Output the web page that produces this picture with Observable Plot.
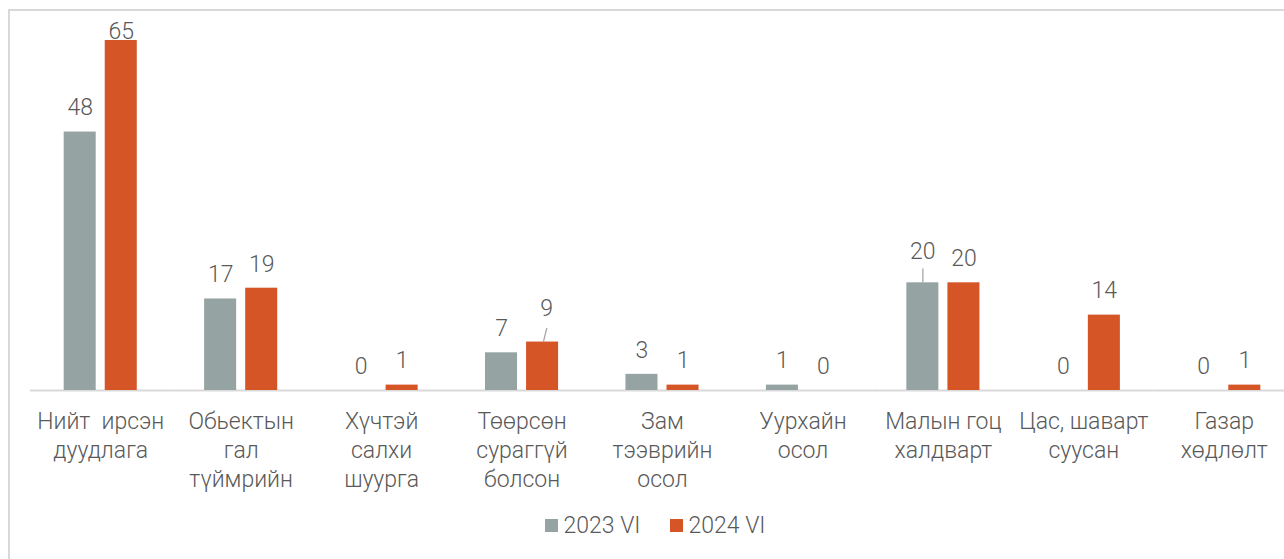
<!DOCTYPE html>
<html>
<head>
<meta charset="utf-8">
<script src="https://cdn.jsdelivr.net/npm/d3@7"></script>
<script src="https://cdn.jsdelivr.net/npm/@observablehq/plot@0.6"></script>
<style>
  html, body { margin: 0; padding: 0; background: #fff; overflow: hidden; width: 1284px; height: 559px; }
  body { font-family: Roboto, "Noto Sans", sans-serif; font-weight: 300; position: relative; }
  #frame { position: absolute; left: 8px; top: 9px; width: 1320px; height: 620px; border: 2px solid #d9d9d9; box-sizing: border-box; }
  #chart { position: absolute; left: 0; top: 0; width: 1284px; overflow: hidden; }
  #chart svg { max-width: none !important; }
  #legend { position: absolute; left: 0; top: 512px; width: 1310px; display: flex; justify-content: center; gap: 29px; font-size: 23px; color: #595959; }
  .item { display: flex; align-items: center; gap: 6px; }
  .sw { width: 13px; height: 13px; display: inline-block; }
</style>
</head>
<body>
<div id="frame"></div>
<div id="chart"></div>
<div id="legend"></div>
<script>
const categories = [
  "Нийт  ирсэн\nдуудлага",
  "Обьектын\nгал\nтүймрийн",
  "Хүчтэй\nсалхи\nшуурга",
  "Төөрсөн\nсураггүй\nболсон",
  "Зам\nтээврийн\nосол",
  "Уурхайн\nосол",
  "Малын гоц\nхалдварт",
  "Цас, шаварт\nсуусан",
  "Газар\nхөдлөлт"
];
const seriesNames = ["2023 VI", "2024 VI"];
const values2023 = [48, 17, 0, 7, 3, 1, 20, 0, 0];
const values2024 = [65, 19, 1, 9, 1, 0, 20, 14, 1];
const colors = ["#95a3a3", "#d55527"];

const data = [];
categories.forEach((c, i) => {
  data.push({category: c, series: seriesNames[0], value: values2023[i], idx: i});
  data.push({category: c, series: seriesNames[1], value: values2024[i], idx: i});
});

const isTop = d => d.value >= 60;
const isLeaderA = d => d.idx === 3 && d.series === seriesNames[1];
const isLeaderB = d => d.idx === 6 && d.series === seriesNames[0];
const isNormal = d => !isTop(d) && !isLeaderA(d) && !isLeaderB(d);

const textColor = "#595959";
const fontFamily = "Roboto, 'Noto Sans', sans-serif";
const labelOpts = {fx: "category", x: "series", y: "value", text: d => String(d.value), fontSize: 23, fill: textColor};

const plot = Plot.plot({
  width: 1300,
  height: 500,
  marginLeft: 30,
  marginRight: 6,
  marginTop: 40,
  marginBottom: 110,
  facet: {marginTop: 0, marginRight: 0, marginBottom: 0, marginLeft: 0},
  style: {fontFamily, fontWeight: 300, background: "transparent"},
  fx: {domain: categories, padding: 0, label: null, round: false, axis: null},
  x: {domain: seriesNames, paddingInner: 0.22, paddingOuter: 0.82, axis: null, round: false},
  y: {domain: [0, 65], axis: null},
  color: {domain: seriesNames, range: colors},
  marks: [
    Plot.ruleY([0], {stroke: "#d9d9d9", strokeWidth: 2}),
    Plot.barY(data, {fx: "category", x: "series", y: "value", fill: "series"}),
    Plot.text(data.filter(isNormal), {...labelOpts, dy: -24}),
    Plot.text(data.filter(isTop), {...labelOpts, dy: -9}),
    Plot.text(data.filter(isLeaderA), {...labelOpts, dy: -33, dx: 4}),
    Plot.text(data.filter(isLeaderB), {...labelOpts, dy: -31}),
    Plot.vector(data.filter(isLeaderA), {fx: "category", x: "series", y: "value", length: 13, rotate: 14, anchor: "start", r: 0, dy: -1, dx: 1, stroke: "#a6a6a6", strokeWidth: 1.3}),
    Plot.vector(data.filter(isLeaderB), {fx: "category", x: "series", y: "value", length: 13, rotate: 0, anchor: "start", r: 0, dy: -1, stroke: "#a6a6a6", strokeWidth: 1.3}),
    Plot.axisFx({anchor: "bottom", tickSize: 0, tickPadding: 18, fontSize: 23, lineHeight: 1.26, fill: textColor, label: null})
  ]
});
document.getElementById("chart").appendChild(plot);

const legend = document.getElementById("legend");
seriesNames.forEach((s, i) => {
  const item = document.createElement("div");
  item.className = "item";
  const sw = document.createElement("span");
  sw.className = "sw";
  sw.style.background = colors[i];
  const t = document.createElement("span");
  t.textContent = s;
  item.appendChild(sw);
  item.appendChild(t);
  legend.appendChild(item);
});
</script>
</body>
</html>
